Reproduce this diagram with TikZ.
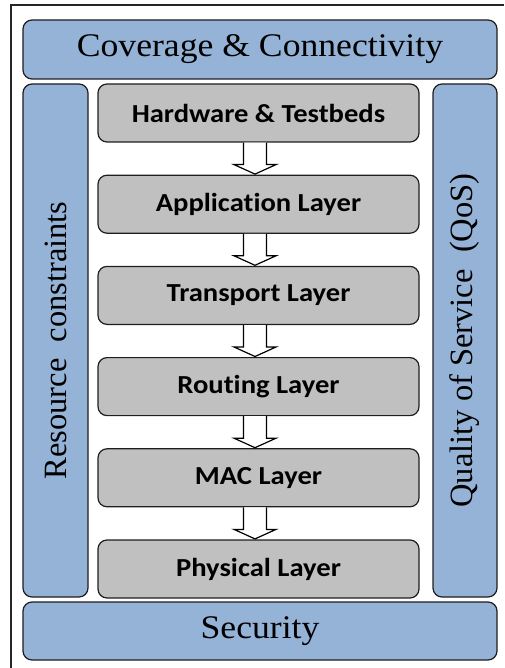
\documentclass[tikz,border=0pt]{standalone}
\usepackage{fontspec}
\usetikzlibrary{calc}
\setmainfont{Liberation Serif}
\newfontfamily\bandfont[FakeStretch=1.08]{Liberation Serif}
\newfontfamily\layerfont[FakeStretch=1.1, Ligatures=NoCommon]{Carlito}
\definecolor{bandblue}{HTML}{95B3D7}
\definecolor{layergray}{HTML}{C0C0C0}
\definecolor{edge}{HTML}{1E1E1E}
\tikzset{
  band/.style={draw=edge, line width=1.2pt, fill=bandblue, rounded corners=9pt,
    inner sep=0pt, font=\bandfont\fontsize{33}{38}\selectfont},
  side/.style={draw=edge, line width=1.2pt, fill=bandblue, rounded corners=9pt,
    inner sep=0pt, rotate=90, font=\rmfamily\fontsize{32.5}{38}\selectfont},
  layer/.style={draw=edge, line width=1.2pt, fill=layergray, rounded corners=9pt,
    inner sep=0pt, minimum width=321pt, minimum height=58pt,
    font=\layerfont\bfseries\fontsize{26}{30}\selectfont},
  hollow/.style={draw=black, line width=1.2pt, fill=white, line join=miter},
  frame/.style={draw=black!85, line width=1.6pt}
}
\begin{document}
\begin{tikzpicture}[x=1pt, y=-1pt]
  \useasboundingbox (0,0) rectangle (504,668);
  % outer frame
  \draw[frame] (11,668) -- (11,5) -- (504,5);

  % horizontal bands
  \node[band, minimum width=474pt, minimum height=59pt] (cov) at (260,49.5) {Coverage \& Connectivity};
  \node[band, minimum width=474pt, minimum height=58pt] (sec) at (260,631) {Security};

  % vertical bands
  \node[side, minimum width=513pt, minimum height=65pt] (res) at (55.5,340.5) {Resource\ \ constraints};
  \node[side, minimum width=513pt, minimum height=64pt] (qos) at (465,340.5) {Quality of Service\ \ (QoS)};

  % protocol stack
  \node[layer] (hw)  at (258.5,113)   {Hardware \& Testbeds};
  \node[layer] (app) at (258.5,204.2) {Application Layer};
  \node[layer] (tra) at (258.5,295.4) {Transport Layer};
  \node[layer] (rou) at (258.5,386.6) {Routing Layer};
  \node[layer] (mac) at (258.5,477.8) {MAC Layer};
  \node[layer] (phy) at (258.5,569)   {Physical Layer};

  % hollow block arrows between layers
  \foreach \a/\b in {hw/app, app/tra, tra/rou, rou/mac, mac/phy} {
    \draw[hollow] ($(\a.south)+(-15,0)$) -- ($(\a.south)+(-15,22)$)
      -- ($(\a.south)+(-24.5,22)$) -- ($(\b.north)+(-3.5,-0.5)$)
      -- ($(\a.south)+(17.5,22)$) -- ($(\a.south)+(8,22)$)
      -- ($(\a.south)+(8,0)$);
  }
\end{tikzpicture}
\end{document}
